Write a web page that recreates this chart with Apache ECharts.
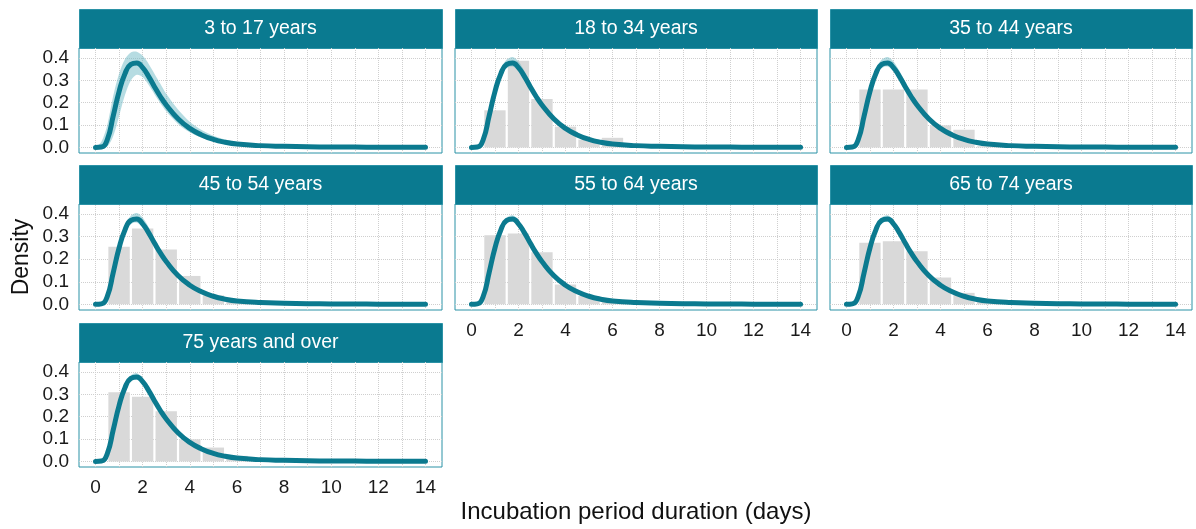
<!DOCTYPE html>
<html><head><meta charset="utf-8">
<script src="https://cdn.jsdelivr.net/npm/echarts@6/dist/echarts.min.js"></script>
<style>html,body{margin:0;padding:0;background:#fff}#c{width:1196px;height:529px}</style>
</head><body><div id="c"></div>
<script>
// ---------- DATA ----------
const panelTitles = ['3 to 17 years', '18 to 34 years', '35 to 44 years', '45 to 54 years', '55 to 64 years', '65 to 74 years', '75 years and over'];
const xTickValues = [0, 2, 4, 6, 8, 10, 12, 14];
const yTickValues = [0, 0.1, 0.2, 0.3, 0.4];
const xGridValues = [0, 1, 2, 3, 4, 5, 6, 7, 8, 9, 10, 11, 12, 13, 14];
const xTitle = 'Incubation period duration (days)';
const yTitle = 'Density';

// fitted density curve (days, density)
const curveX = [0, 0.25, 0.5, 0.75, 1, 1.25, 1.5, 1.75, 2, 2.25, 2.5, 2.75, 3, 3.5, 4, 4.5, 5, 5.5, 6, 7, 8, 9, 10, 11, 12, 13, 14];
const curveY = [0, 0.002, 0.035, 0.14, 0.25, 0.33, 0.372, 0.378, 0.357, 0.318, 0.272, 0.228, 0.19, 0.128, 0.085, 0.056, 0.036, 0.023, 0.015, 0.008, 0.005, 0.003, 0.002, 0.0015, 0.001, 0.001, 0.001];

// uncertainty bands
const bandWideUpper = [0, 0.025, 0.1, 0.23, 0.33, 0.395, 0.425, 0.428, 0.41, 0.375, 0.33, 0.285, 0.24, 0.17, 0.115, 0.078, 0.052, 0.035, 0.024, 0.012, 0.007, 0.004, 0.003, 0.002, 0.0015, 0.0015, 0.0015];
const bandWideLower = [0, 0, 0.004, 0.05, 0.14, 0.235, 0.3, 0.325, 0.315, 0.28, 0.238, 0.198, 0.162, 0.105, 0.068, 0.044, 0.028, 0.018, 0.012, 0.006, 0.003, 0.002, 0.001, 0.001, 0.0005, 0.0005, 0.0005];
const bandMidUpper = [0, 0.006, 0.05, 0.165, 0.275, 0.352, 0.393, 0.405, 0.385, 0.343, 0.293, 0.246, 0.204, 0.138, 0.093, 0.062, 0.041, 0.027, 0.018, 0.01, 0.006, 0.0035, 0.0025, 0.0018, 0.0012, 0.0012, 0.0012];
const bandMidLower = [0, 0.001, 0.024, 0.118, 0.228, 0.31, 0.355, 0.362, 0.342, 0.304, 0.26, 0.218, 0.18, 0.119, 0.08, 0.053, 0.035, 0.022, 0.015, 0.008, 0.004, 0.0025, 0.0015, 0.001, 0.0008, 0.0008, 0.0008];
const bandNarrowUpper = [0, 0.004, 0.042, 0.152, 0.262, 0.342, 0.385, 0.395, 0.372, 0.33, 0.282, 0.236, 0.195, 0.131, 0.088, 0.059, 0.039, 0.025, 0.017, 0.009, 0.005, 0.003, 0.002, 0.0015, 0.001, 0.001, 0.001];
const bandNarrowLower = [0, 0.001, 0.029, 0.128, 0.238, 0.318, 0.36, 0.366, 0.346, 0.308, 0.263, 0.22, 0.181, 0.121, 0.082, 0.055, 0.036, 0.023, 0.016, 0.008, 0.004, 0.0025, 0.0015, 0.001, 0.0008, 0.0008, 0.0008];

// observed histogram (bin centres in days, density)
const binCenters = [1, 2, 3, 4, 5, 6, 7, 8, 9];
const hist3to17 = [];
const hist18to34 = [0.166, 0.388, 0.217, 0.093, 0.035, 0.043, 0, 0, 0.007];
const hist35to44 = [0.259, 0.259, 0.259, 0.099, 0.079, 0.005, 0, 0, 0];
const hist45to54 = [0.255, 0.336, 0.243, 0.126, 0.04, 0.01, 0, 0, 0];
const hist55to64 = [0.306, 0.314, 0.231, 0.088, 0.037, 0.017, 0, 0, 0];
const hist65to74 = [0.273, 0.28, 0.235, 0.119, 0.051, 0.018, 0, 0, 0];
const hist75plus = [0.31, 0.29, 0.224, 0.099, 0.062, 0.025, 0, 0, 0];

// ---------- LAYOUT ----------
const TEAL = '#0a7a90';
const FONT = '"Liberation Sans", Arial, Helvetica, sans-serif';
const colLeft = [79, 455, 830];
const colWidth = [363, 362, 362];
const stripTop = [9, 165, 323];
const stripH = 39;
const plotTop = [48, 204, 362];
const plotH = [105, 106, 105];

const panels = [
  { title: panelTitles[0], row: 0, col: 0, hist: hist3to17, up: bandWideUpper, lo: bandWideLower, showX: false, showY: true },
  { title: panelTitles[1], row: 0, col: 1, hist: hist18to34, up: bandMidUpper, lo: bandMidLower, showX: false, showY: false },
  { title: panelTitles[2], row: 0, col: 2, hist: hist35to44, up: bandMidUpper, lo: bandMidLower, showX: false, showY: false },
  { title: panelTitles[3], row: 1, col: 0, hist: hist45to54, up: bandMidUpper, lo: bandMidLower, showX: false, showY: true },
  { title: panelTitles[4], row: 1, col: 1, hist: hist55to64, up: bandNarrowUpper, lo: bandNarrowLower, showX: true, showY: false },
  { title: panelTitles[5], row: 1, col: 2, hist: hist65to74, up: bandNarrowUpper, lo: bandNarrowLower, showX: true, showY: false },
  { title: panelTitles[6], row: 2, col: 0, hist: hist75plus, up: bandNarrowUpper, lo: bandNarrowLower, showX: true, showY: true }
];

const grids = [], xAxes = [], yAxes = [], series = [], graphics = [];
panels.forEach((p, i) => {
  const left = colLeft[p.col], w = colWidth[p.col];
  grids.push({ left: left, top: plotTop[p.row], width: w, height: plotH[p.row], show: true,
    backgroundColor: '#fff', borderColor: '#2b92a6', borderWidth: 1, containLabel: false });
  xAxes.push({ gridIndex: i, type: 'value', min: -0.7, max: 14.7,
    axisLine: { show: false }, axisTick: { show: false }, splitLine: { show: false },
    axisLabel: { show: p.showX, customValues: xTickValues, fontSize: 19, color: '#1a1a1a', fontFamily: FONT, margin: 11 } });
  yAxes.push({ gridIndex: i, type: 'value', min: -0.025, max: 0.445,
    axisLine: { show: false }, axisTick: { show: false }, splitLine: { show: false },
    axisLabel: { show: p.showY, customValues: yTickValues, fontSize: 19, color: '#1a1a1a', fontFamily: FONT, margin: 10,
      formatter: v => Number(v).toFixed(1) } });
  // grid lines (kept underneath everything)
  series.push({ type: 'line', xAxisIndex: i, yAxisIndex: i, data: [], silent: true, z: 1, symbol: 'none',
    markLine: { z: 1, symbol: ['none', 'none'], silent: true, animation: false, label: { show: false },
      emphasis: { disabled: true },
      lineStyle: { type: 'dotted', color: '#cfcfcf', width: 1 },
      data: xGridValues.map(v => ({ xAxis: v })).concat(yTickValues.map(v => ({ yAxis: v }))) } });
  // histogram
  const hd = [];
  p.hist.forEach((v, k) => { if (v > 0) hd.push([binCenters[k], v]); });
  series.push({ type: 'custom', xAxisIndex: i, yAxisIndex: i, silent: true, z: 2, data: hd,
    renderItem: (params, api) => {
      const x = api.value(0), y = api.value(1);
      const a = api.coord([x - 0.5, y]), b = api.coord([x + 0.5, 0]);
      return { type: 'rect', shape: { x: a[0] + 1.1, y: a[1], width: b[0] - a[0] - 2.2, height: b[1] - a[1] },
        style: { fill: '#d9d9d9' } };
    } });
  // ribbon
  series.push({ type: 'custom', xAxisIndex: i, yAxisIndex: i, silent: true, z: 3, data: [[0, 0]],
    renderItem: (params, api) => {
      const pts = [];
      for (let k = 0; k < curveX.length; k++) pts.push(api.coord([curveX[k], p.up[k]]));
      for (let k = curveX.length - 1; k >= 0; k--) pts.push(api.coord([curveX[k], p.lo[k]]));
      return { type: 'polygon', shape: { points: pts, smooth: 0.3 }, style: { fill: 'rgba(110,186,198,0.5)' } };
    } });
  // fitted line
  series.push({ type: 'line', xAxisIndex: i, yAxisIndex: i, silent: true, z: 4, symbol: 'none',
    data: curveX.map((x, k) => [x, curveY[k]]), showSymbol: false, smooth: 0.5,
    lineStyle: { width: 5, color: '#0b7a8f', cap: 'round', join: 'round' } });
  // strip
  graphics.push({ type: 'rect', left: left, top: stripTop[p.row], silent: true,
    shape: { width: w, height: stripH }, style: { fill: TEAL, stroke: '#2b92a6', lineWidth: 1 } });
  graphics.push({ type: 'text', x: left + w / 2, y: stripTop[p.row] + stripH / 2, silent: true,
    style: { text: p.title, fill: '#fff', font: '19.5px ' + FONT, align: 'center', verticalAlign: 'middle' } });
});
graphics.push({ type: 'text', x: 636, y: 512, silent: true,
  style: { text: xTitle, fill: '#111', font: '24px ' + FONT, align: 'center', verticalAlign: 'middle' } });
graphics.push({ type: 'text', x: 22, y: 257, rotation: Math.PI / 2, silent: true,
  style: { text: yTitle, fill: '#111', font: '23px ' + FONT, align: 'center', verticalAlign: 'middle' } });

const chart = echarts.init(document.getElementById('c'), null, { renderer: 'canvas' });
chart.setOption({ animation: false, backgroundColor: '#fff', grid: grids, xAxis: xAxes, yAxis: yAxes, series: series, graphic: graphics });
</script></body></html>
